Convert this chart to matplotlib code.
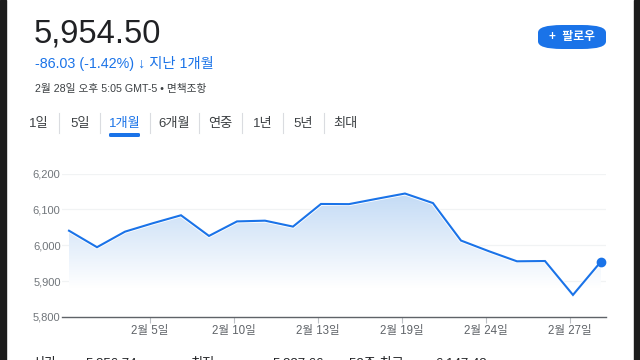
import numpy as np
import matplotlib
matplotlib.use("Agg")
import matplotlib.pyplot as plt
import matplotlib.patheffects as pe
from matplotlib.colors import LinearSegmentedColormap
from matplotlib.patches import FancyBboxPatch, Rectangle

plt.rcParams["font.family"] = ["Liberation Sans", "Noto Sans CJK KR", "DejaVu Sans"]

# S&P 500 daily closes, Jan 31 .. Feb 28
dates = ["1/31", "2/3", "2/4", "2/5", "2/6", "2/7", "2/10", "2/11", "2/12", "2/13",
         "2/14", "2/18", "2/19", "2/20", "2/21", "2/24", "2/25", "2/26", "2/27", "2/28"]
closes = [6040.53, 5994.57, 6037.88, 6061.48, 6083.57, 6025.99, 6066.44, 6068.50,
          6051.97, 6115.07, 6114.63, 6129.58, 6144.15, 6117.52, 6013.13, 5983.25,
          5955.25, 5956.06, 5861.57, 5954.50]

tick_dates = ["2/5", "2/10", "2/13", "2/19", "2/24", "2/27"]
tick_labels = ["2월 5일", "2월 10일", "2월 13일", "2월 19일", "2월 24일", "2월 27일"]
y_ticks = [5800, 5900, 6000, 6100, 6200]

tabs = ["1일", "5일", "1개월", "6개월", "연중", "1년", "5년", "최대"]
tab_x = [39, 80, 125, 174, 220, 263, 303, 345]
sep_x = [59, 100, 150, 199, 242, 283, 324]

stats_labels = ["시가", "최저", "52주 최고"]
stats_values = ["5,856.74", "5,837.66", "6,147.43"]

BLUE = "#1a73e8"
W, H = 640, 360


def fx(x):
    return x / W


def fy(y):
    return 1 - y / H


fig = plt.figure(figsize=(6.4, 3.6), dpi=100)
fig.patch.set_facecolor("white")

# dark frame edges
fig.patches.append(Rectangle((0, 0), fx(6), 1, transform=fig.transFigure,
                             color="#1c1c1c", zorder=10))
fig.patches.append(Rectangle((fx(633.5), 0), 1, 1, transform=fig.transFigure,
                             color="#1c1c1c", zorder=10))

# header
fig.text(fx(34), fy(34), "5,954.50", fontsize=23.5, color="#202124", va="center")
fig.text(fx(35), fy(63.5), "-86.03 (-1.42%) ↓ 지난 1개월", fontsize=10.3,
         color=BLUE, va="center")
fig.text(fx(35), fy(89), "2월 28일 오후 5:05 GMT-5 • 면책조항", fontsize=7.7,
         color="#3c4043", va="center")

# follow button
fig.patches.append(FancyBboxPatch((fx(538), fy(49)), fx(68), fy(25) - fy(49),
                                  boxstyle="round,pad=0,rounding_size=0.0375",
                                  transform=fig.transFigure, mutation_aspect=360 / 640,
                                  facecolor=BLUE, edgecolor="none"))
fig.text(fx(572), fy(37), "+  팔로우", fontsize=8.5, color="white", ha="center",
         va="center", fontweight="bold")

# tabs
for label, x in zip(tabs, tab_x):
    fig.text(fx(x), fy(124), label, fontsize=9.5, ha="center", va="center",
             color=BLUE if label == "1개월" else "#3c4043")
for x in sep_x:
    fig.lines.append(plt.Line2D([fx(x), fx(x)], [fy(113), fy(133)],
                                transform=fig.transFigure, color="#dadce0", lw=0.8))
fig.patches.append(FancyBboxPatch((fx(109), fy(137)), fx(31), fy(133) - fy(137),
                                  boxstyle="round,pad=0,rounding_size=0.003",
                                  transform=fig.transFigure, facecolor=BLUE,
                                  edgecolor="none"))

# chart
ax = fig.add_axes([fx(62), fy(317), fx(606) - fx(62), fy(173.5) - fy(317)])
x = np.arange(len(closes))
y = np.array(closes)

ax.set_xlim(-0.25, len(closes) - 1 + 0.18)
ax.set_ylim(y_ticks[0], y_ticks[-1])

for v in y_ticks[1:]:
    ax.axhline(v, color="#f1f3f4", lw=0.9, zorder=0)

# gradient fill under the line
cmap = LinearSegmentedColormap.from_list("fade", ["#ffffff", "#c2daf5"])
grad = np.linspace(0, 1, 256).reshape(-1, 1)
poly = ax.fill_between(x, y, y_ticks[1] - 30, color="none")
img = ax.imshow(grad, cmap=cmap, aspect="auto", origin="lower",
                extent=[x[0], x[-1], 5880, 6150], zorder=1)
img.set_clip_path(poly.get_paths()[0], transform=ax.transData)

ax.plot(x, y, color=BLUE, lw=1.5, zorder=3, solid_joinstyle="miter",
        path_effects=[pe.Stroke(linewidth=2.8, foreground="white"), pe.Normal()])
ax.plot(x[-1], y[-1], "o", color=BLUE, ms=6, zorder=4)

tick_pos = [dates.index(d) - 0.12 for d in tick_dates]
ax.set_xticks(tick_pos)
ax.set_xticklabels(tick_labels)
ax.set_yticks(y_ticks)
ax.set_yticklabels([f"{v:,}" for v in y_ticks])

for s in ["top", "right", "left"]:
    ax.spines[s].set_visible(False)
ax.spines["bottom"].set_color("#5f6368")
ax.spines["bottom"].set_linewidth(1.0)

ax.tick_params(axis="x", length=4, width=0.8, color="#bdc1c6", pad=1.5,
               labelsize=8.3, labelcolor="#5f6368")
ax.tick_params(axis="y", length=0, pad=1, labelsize=8, labelcolor="#70757a")
ax.patch.set_alpha(0)

# stats row, cut off by the bottom edge as in the screenshot
stat_lx = [32, 190, 349]
stat_vx = [85, 272, 435]
for lab, val, lx, vx in zip(stats_labels, stats_values, stat_lx, stat_vx):
    fig.text(fx(lx), fy(367), lab, fontsize=9.5, color="#202124", va="baseline")
    fig.text(fx(vx), fy(367), val, fontsize=9.5, color="#202124", va="baseline")

fig.savefig("out.png", dpi=100)
